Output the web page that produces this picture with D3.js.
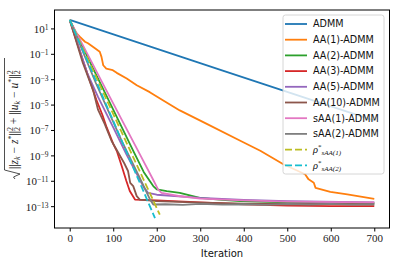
<!DOCTYPE html>
<html><head><meta charset="utf-8">
<script src="https://cdn.jsdelivr.net/npm/d3@7"></script>
<style>body{margin:0;background:#fff}svg{display:block}</style>
</head><body>
<svg id="c" width="399" height="266"></svg>
<script>
// ---- data (iteration, log10 of residual) ----
const seriesNames = ["ADMM","AA(1)-ADMM","AA(2)-ADMM","AA(3)-ADMM","AA(5)-ADMM","AA(10)-ADMM","sAA(1)-ADMM","sAA(2)-ADMM","rho1","rho2"];
const admmX = [0, 350, 700];
const admmE = [1.67, -2.3, -6.26];
const aa1X = [0,12,23,35,42,58,69,73,77,84,99,108,131,154,184,215,253,315,392,438,491,541,549,561,565,599,638,700];
const aa1E = [1.67,0.75,0.35,-0.05,-0.17,-0.57,-0.84,-1.24,-1.9,-2.17,-2.29,-2.5,-2.95,-3.48,-4.02,-4.67,-5.46,-6.52,-7.85,-8.64,-9.7,-10.49,-10.89,-11.16,-11.56,-11.87,-12.08,-12.43];
const aa2X = [0,50,100,146,170,184,192,200,223,253,299,350,392,500,600,700];
const aa2E = [1.67,-1.9,-5.4,-8.64,-10.3,-11.02,-11.42,-11.68,-11.82,-11.95,-12.35,-12.5,-12.61,-12.7,-12.73,-12.75];
const aa3X = [0,30,61,75,85,100,108,120,130,138,150,200,300,400,500,600,700];
const aa3E = [1.67,-1.5,-4.6,-5.8,-6.8,-8.1,-8.64,-9.9,-11.0,-11.8,-12.48,-12.55,-12.7,-12.85,-12.95,-13.0,-13.0];
const aa5X = [0,40,65,100,130,150,170,180,200,300,400,500,700];
const aa5E = [1.67,-2.5,-4.4,-6.8,-8.9,-10.2,-11.5,-11.95,-12.1,-12.35,-12.5,-12.6,-12.7];
const aa10X = [0,30,54,65,80,96,110,125,134,139,146,154,161,200,300,400,700];
const aa10E = [1.67,-1.7,-3.9,-5.4,-6.5,-7.85,-8.7,-9.6,-10.23,-11.16,-11.42,-12.21,-12.48,-12.6,-12.72,-12.8,-12.85];
const saa1X = [0,80,161,190,203,211,250,300,400,500,700];
const saa1E = [1.67,-3.6,-8.9,-10.8,-11.68,-11.95,-12.2,-12.4,-12.55,-12.65,-12.7];
const saa2X = [0,60,120,160,185,192,220,260,300,350,400,450,500,550,600,650,700];
const saa2E = [1.67,-3.3,-7.9,-10.7,-12.5,-12.87,-12.85,-12.9,-12.82,-12.88,-12.85,-12.9,-12.83,-12.87,-12.82,-12.88,-12.85];
const rho1X = [0, 207];
const rho1E = [1.67, -13.67];
const rho2X = [0, 196];
const rho2E = [1.67, -13.94];
const xTicks = [0,100,200,300,400,500,600,700];
const yTickExps = [1,-1,-3,-5,-7,-9,-11,-13];

const colors = ["#1f77b4","#ff7f0e","#2ca02c","#d62728","#9467bd","#8c564b","#e377c2","#7f7f7f","#bcbd22","#17becf"];
const xs = [admmX,aa1X,aa2X,aa3X,aa5X,aa10X,saa1X,saa2X,rho1X,rho2X];
const es = [admmE,aa1E,aa2E,aa3E,aa5E,aa10E,saa1E,saa2E,rho1E,rho2E];
const dashed = [false,false,false,false,false,false,false,false,true,true];

const svg = d3.select("#c");
const L=54.5, R=389.5, T=10, B=228;
const x = d3.scaleLinear().domain([-35,735]).range([L,R]);
const y = d3.scaleLog().domain([Math.pow(10,-14.72), Math.pow(10,2.45)]).range([B,T]);

const g = svg.append("g");
g.append("clipPath").attr("id","clip").append("rect").attr("x",L).attr("y",T).attr("width",R-L).attr("height",B-T);
const line = d3.line().x(d=>x(d[0])).y(d=>y(d[1]));
const plot = g.append("g").attr("clip-path","url(#clip)");
xs.forEach((xa,i)=>{
  const pts = xa.map((v,j)=>[v, Math.pow(10, es[i][j])]);
  plot.append("path").attr("d",line(pts)).attr("fill","none")
    .attr("stroke",colors[i]).attr("stroke-width",1.8)
    .attr("stroke-linejoin","round")
    .attr("stroke-dasharray", dashed[i] ? "7,3" : null);
});

// axes frame
g.append("rect").attr("x",L).attr("y",T).attr("width",R-L).attr("height",B-T)
  .attr("fill","none").attr("stroke","#000").attr("stroke-width",1);

// x axis
const xa = d3.axisBottom(x).tickValues(xTicks).tickSize(3.5).tickPadding(3).tickFormat(d3.format("d"));
const xg = g.append("g").attr("transform",`translate(0,${B})`).call(xa);
xg.select(".domain").remove();
xg.selectAll("text").attr("font-family","'Liberation Serif', serif").attr("font-size",11).attr("fill","#222");
// y axis
const ya = d3.axisLeft(y).tickValues(yTickExps.map(e=>Math.pow(10,e))).tickSize(3.5).tickPadding(3).tickFormat("");
const yg = g.append("g").attr("transform",`translate(${L},0)`).call(ya);
yg.select(".domain").remove();
yg.selectAll(".tick").each(function(d,i){
  const t = d3.select(this).append("text").attr("x",-6).attr("dy","0.35em")
    .attr("text-anchor","end").attr("fill","#222")
    .attr("font-family","'Liberation Serif', serif").attr("font-size",11);
  t.append("tspan").text("10");
  t.append("tspan").attr("dy","-0.4em").attr("font-size",7.5).text(String(yTickExps[i]).replace("-","\u2212"));
});

// x label
svg.append("text").attr("x",(L+R)/2).attr("y",257).attr("text-anchor","middle")
  .attr("font-family","'DejaVu Sans', sans-serif").attr("font-size",10).attr("fill","#111").text("Iteration");

// y label (math)
const yl = svg.append("g").attr("transform","translate(14,117) rotate(-90)");
yl.append("path").attr("d","M-62,1 L-60,-0.5 L-57,6 L-53,-9.5 L59,-9.5").attr("fill","none").attr("stroke","#222").attr("stroke-width",0.8);
const yt = yl.append("text").attr("x",-52).attr("y",3.5).attr("font-family","'Liberation Serif', serif").attr("font-size",11.5).attr("fill","#222");
function ts(txt, opt={}){ const s=yt.append("tspan").text(txt); if(opt.i) s.attr("font-style","italic"); if(opt.dy) s.attr("dy",opt.dy); if(opt.dx) s.attr("dx",opt.dx); if(opt.fs) s.attr("font-size",opt.fs); return s; }
ts("||"); ts("z",{i:1}); ts("k",{i:1,dy:2,fs:8}); ts(" \u2212 ",{dy:-2}); ts("z",{i:1}); ts("*",{dy:-3.5,fs:8}); ts("||",{dy:3.5});
ts("2",{dy:2.5,fs:8}); ts("2",{dy:-7.5,dx:-4,fs:8}); ts(" + ",{dy:5});
ts("||"); ts("u",{i:1}); ts("k",{i:1,dy:2,fs:8}); ts(" \u2212 ",{dy:-2}); ts("u",{i:1}); ts("*",{dy:-3.5,fs:8}); ts("||",{dy:3.5});
ts("2",{dy:2.5,fs:8}); ts("2",{dy:-7.5,dx:-4,fs:8});

// legend
const lg = svg.append("g");
lg.append("rect").attr("x",283).attr("y",15).attr("width",101).attr("height",159).attr("rx",2.5)
  .attr("fill","#fff").attr("fill-opacity",0.8).attr("stroke","#ccc").attr("stroke-width",0.8);
const labels = ["ADMM","AA(1)-ADMM","AA(2)-ADMM","AA(3)-ADMM","AA(5)-ADMM","AA(10)-ADMM","sAA(1)-ADMM","sAA(2)-ADMM","",""];
labels.forEach((lab,i)=>{
  const yy = 24 + i*15.7;
  lg.append("line").attr("x1",285).attr("x2",307).attr("y1",yy).attr("y2",yy)
    .attr("stroke",colors[i]).attr("stroke-width",1.8).attr("stroke-dasharray",dashed[i]?"7,3":null);
  const t = lg.append("text").attr("x",313).attr("y",yy).attr("dy","0.35em")
    .attr("font-family","'DejaVu Sans', sans-serif").attr("font-size",9.6).attr("fill","#111");
  if(lab) t.text(lab);
  else {
    t.attr("font-family","'Liberation Serif', serif");
    t.append("tspan").attr("font-style","italic").attr("font-size",10.5).text("\u03c1");
    t.append("tspan").attr("dy",-3.5).attr("font-size",7).text("*");
    t.append("tspan").attr("dy",6).attr("font-size",7).attr("font-style","italic").text(i===8?"sAA(1)":"sAA(2)");
  }
});
</script>
</body></html>
